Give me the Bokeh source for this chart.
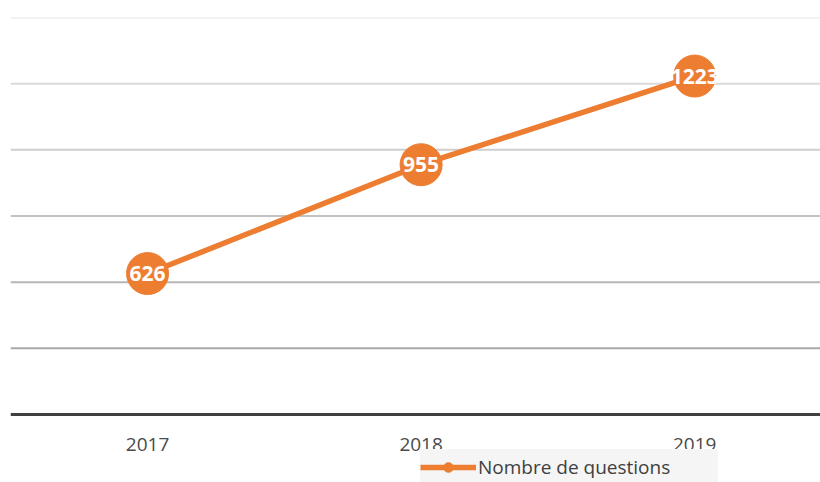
from bokeh.plotting import figure
from bokeh.models import ColumnDataSource, Range1d, Span, Legend, LegendItem, FixedTicker, LabelSet, LinearAxis
from bokeh.core.properties import value
from bokeh.embed import file_html
from bokeh.resources import INLINE

years = [2017, 2018, 2019]
questions = [626, 955, 1223]
labels = ["626", "955", "1223"]
y_ticks = [400, 600, 800, 1000, 1200, 1400]
grid_colors = ["#a9a9a9", "#b6b6b6", "#c2c2c2", "#cecece", "#dadada", "#e8e8e8"]
axis_base = 200
series_name = "Nombre de questions"

ORANGE = "#ED7D31"

src = ColumnDataSource(dict(x=years, y=questions, t=labels))

p = figure(width=820, height=482, output_backend="svg", toolbar_location=None,
           x_range=Range1d(2016.499, 2019.46), y_range=Range1d(-5.6, 1400),
           x_axis_location=None, y_axis_location=None,
           min_border_left=10, min_border_right=0, min_border_top=17, min_border_bottom=0)
p.outline_line_color = None
p.xgrid.grid_line_color = None
p.ygrid.grid_line_color = None

for v, c in zip(y_ticks, grid_colors):
    p.add_layout(Span(location=v, dimension="width", line_color=c, line_width=2, level="underlay"))

xax = LinearAxis(fixed_location=axis_base)
xax.ticker = FixedTicker(ticks=years)
xax.axis_line_color = "#404040"
xax.axis_line_width = 3
xax.major_tick_line_color = None
xax.minor_tick_line_color = None
xax.major_label_text_font = "Open Sans"
xax.major_label_text_font_size = "19px"
xax.major_label_text_color = "#4a4a4a"
xax.major_label_standoff = 18
p.add_layout(xax, "below")

line = p.line("x", "y", source=src, line_color=ORANGE, line_width=5.5)
circ = p.scatter("x", "y", source=src, size=42, fill_color=ORANGE, line_color=ORANGE)

lbl = LabelSet(x="x", y="y", text="t", source=src, text_color="white",
               text_font=value("Open Sans"), text_font_style="bold", text_font_size="21px",
               text_align="center", text_baseline="middle")
p.add_layout(lbl)

lg_dot = p.scatter([2018], [300], size=14, fill_color=ORANGE, line_color=ORANGE, visible=False)
legend = Legend(items=[LegendItem(label=series_name, renderers=[line, lg_dot])],
                location=(410, -3), orientation="horizontal",
                background_fill_color="#f5f5f5", background_fill_alpha=1,
                border_line_color=None, label_text_font="Open Sans",
                label_text_font_size="19px", label_text_color="#404040",
                glyph_width=56, glyph_height=24, label_standoff=2,
                label_width=240, label_height=36,
                padding=0, margin=0)
p.add_layout(legend)

open("out.html", "w").write(file_html(p, INLINE))
